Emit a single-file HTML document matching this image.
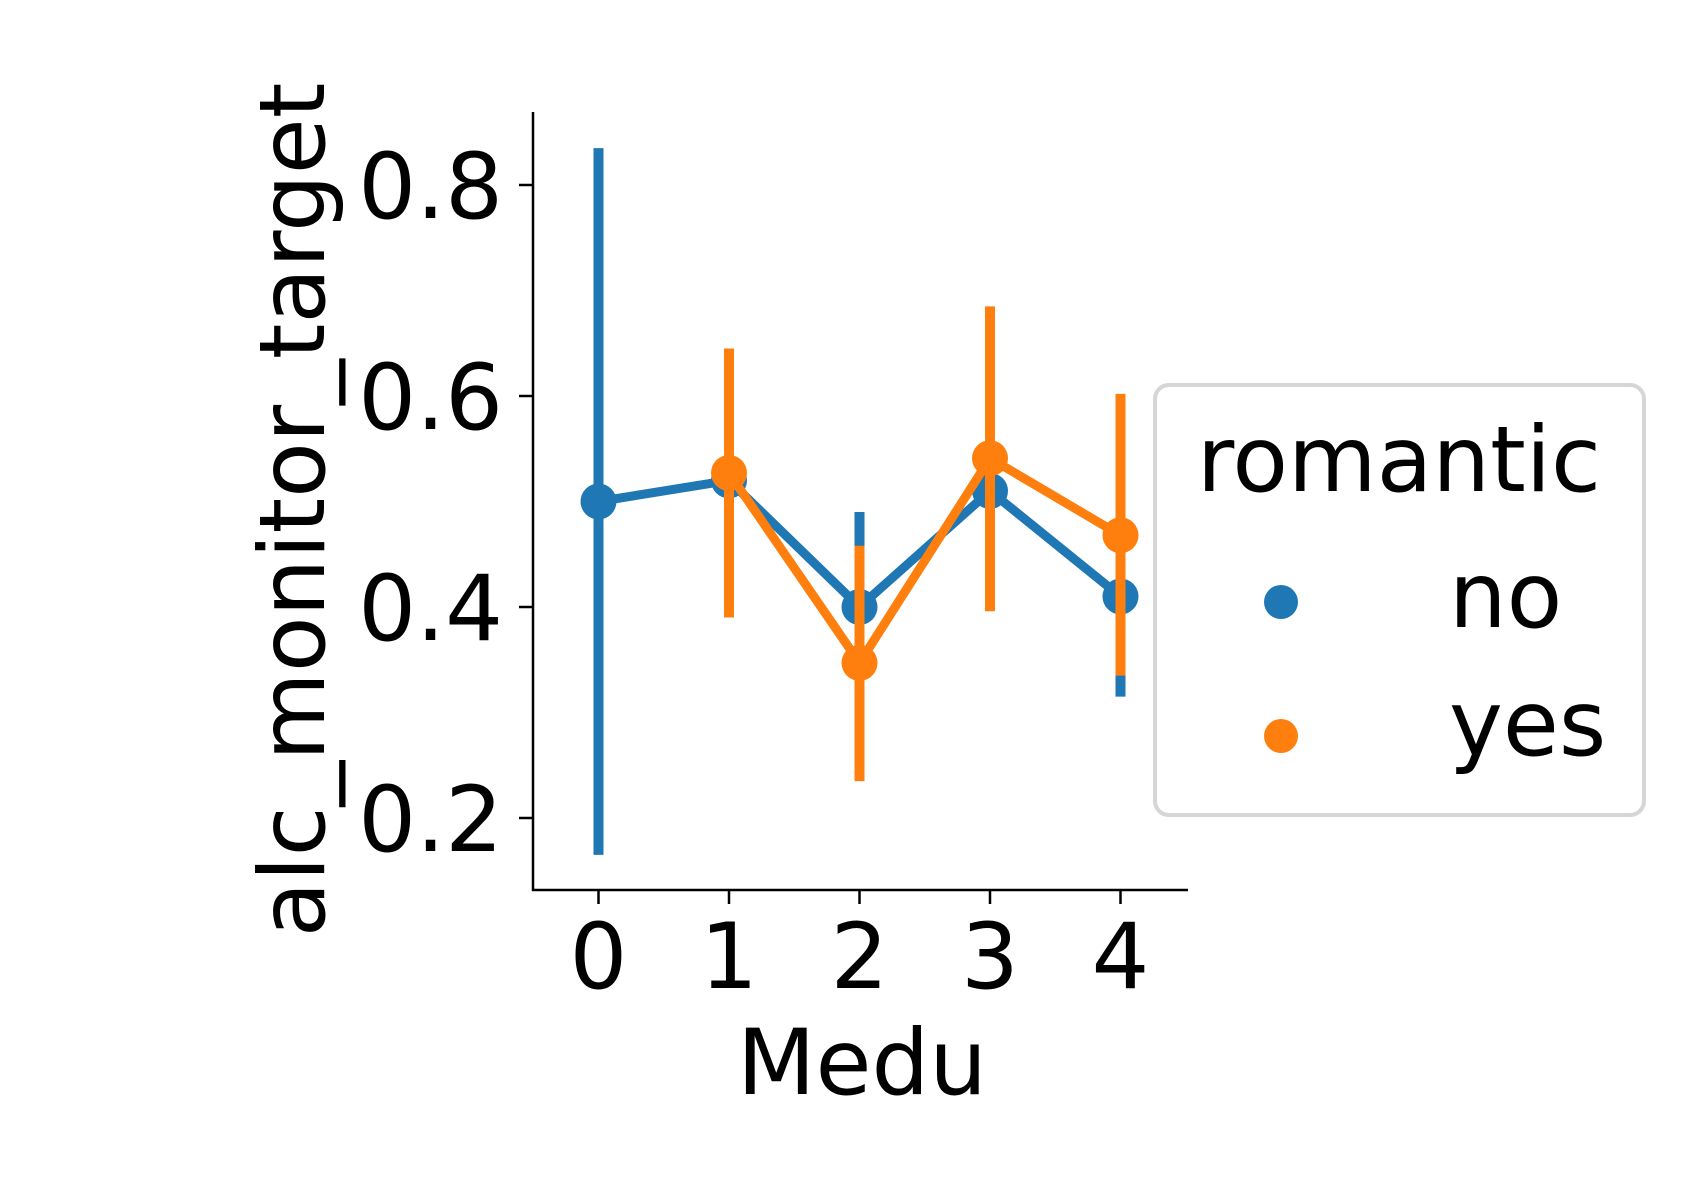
<!DOCTYPE html>
<html><head><meta charset="utf-8"><style>
html,body{margin:0;padding:0;background:#fff;}
svg{display:block;font-family:"DejaVu Sans","Liberation Sans",sans-serif;}
</style></head><body>
<svg id="chart" width="1688" height="1200" viewBox="0 0 1688 1200" xmlns="http://www.w3.org/2000/svg">
<g id="plot"></g>
<g id="legend">
  <rect x="1155" y="385" width="489" height="430" rx="14" fill="#fff" stroke="#d6d6d6" stroke-width="4"/>
  <text x="1399" y="491" font-size="91" text-anchor="middle">romantic</text>
  <circle cx="1281" cy="602" r="17" fill="#1f77b4"/>
  <text x="1449" y="627" font-size="91">no</text>
  <circle cx="1281" cy="736" r="17" fill="#ff7f0e"/>
  <text x="1449" y="755" font-size="91">yes</text>
</g>
</svg>
<script>
const categories = ["0","1","2","3","4"];
const yTicks = [0.2,0.4,0.6,0.8];
const yTickLabels = ["0.2","0.4","0.6","0.8"];
const noMean = [0.50,0.52,0.40,0.51,0.41];
const noLow  = [0.165,0.40,0.30,0.40,0.315];
const noHigh = [0.835,0.63,0.49,0.62,0.50];
const yesMean = [null,0.527,0.347,0.541,0.468];
const yesLow  = [null,0.39,0.235,0.396,0.335];
const yesHigh = [null,0.645,0.458,0.685,0.602];

const NS="http://www.w3.org/2000/svg";
const g=document.getElementById('plot');
const X0=598.5, DX=130.5;
function xs(i){return X0+i*DX;}
function ys(v){return 607-(v-0.4)*1055;}
function mk(t,a){const e=document.createElementNS(NS,t);for(const k in a)e.setAttribute(k,a[k]);g.appendChild(e);return e;}

let ax=mk('line',{x1:533,y1:112,x2:533,y2:891,stroke:'#000','stroke-width':2.5});


ax=mk('line',{x1:532,y1:890,x2:1188,y2:890,stroke:'#000','stroke-width':2.5});



yTicks.forEach((v,i)=>{
  const t=mk('line',{x1:519,y1:ys(v),x2:533,y2:ys(v),stroke:'#000','stroke-width':2.5});
  
  
  const l=mk('text',{x:503,y:ys(v)+33,'font-size':91,'text-anchor':'end'});
  l.textContent=yTickLabels[i];
  
  
});
categories.forEach((c,i)=>{
  const t=mk('line',{x1:xs(i),y1:890,x2:xs(i),y2:904,stroke:'#000','stroke-width':2.5});
  
  
  const l=mk('text',{x:xs(i),y:988,'font-size':91,'text-anchor':'middle'});
  l.textContent=c;
  
  
});
let lab=mk('text',{x:862,y:1094,'font-size':91,'text-anchor':'middle'});
lab.textContent='Medu';


lab=mk('text',{x:0,y:0,'font-size':91,'text-anchor':'middle',transform:'translate(324,510) rotate(-90)'});
lab.textContent='alc_monitor_target';



function series(mean,lo,hi,color,name){
  for(let i=0;i<mean.length;i++){
    if(mean[i]==null)continue;
    const e=mk('line',{x1:xs(i),y1:ys(lo[i]),x2:xs(i),y2:ys(hi[i]),stroke:color,'stroke-width':10});
    
    
  }
  const pts=[];
  mean.forEach((v,i)=>{if(v!=null)pts.push(xs(i)+','+ys(v));});
  const p=mk('polyline',{points:pts.join(' '),fill:'none',stroke:color,'stroke-width':9,'stroke-linejoin':'round'});
  
  
  mean.forEach((v,i)=>{
    if(v==null)return;
    const c=mk('circle',{cx:xs(i),cy:ys(v),r:18,fill:color});
    
    
  });
}
series(noMean,noLow,noHigh,'#1f77b4','no');
series(yesMean,yesLow,yesHigh,'#ff7f0e','yes');
</script>
</body></html>
